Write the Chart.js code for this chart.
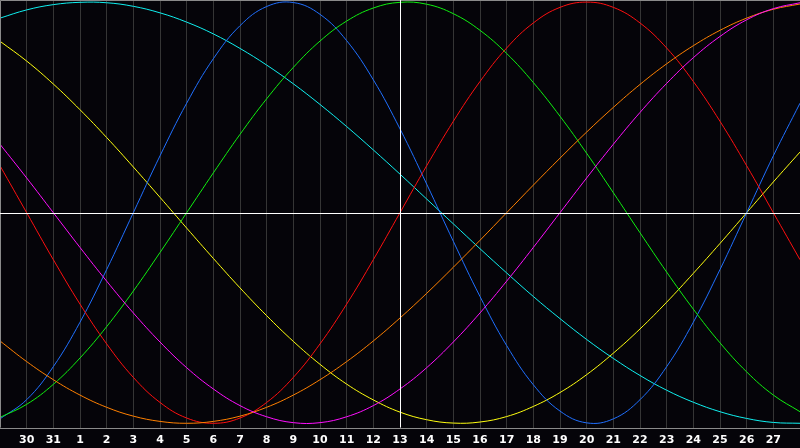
<!DOCTYPE html>
<html><head><meta charset="utf-8">
<script src="https://cdn.jsdelivr.net/npm/chart.js@4"></script>
<style>html,body{margin:0;padding:0;background:#050409;overflow:hidden}canvas{display:block}</style>
</head><body><canvas id="c" width="800" height="448"></canvas>
<script>
// Day labels (index 0 = 29th of previous month ... index 30 = 28th)
const dayLabels = ['29','30','31','1','2','3','4','5','6','7','8','9','10','11','12','13','14','15','16','17','18','19','20','21','22','23','24','25','26','27','28'];
const todayIndex = 15; // "13"

// Curve values (-1 .. 1)
const cyanSeries    = [0.924,0.963,0.988,0.999,0.997,0.980,0.949,0.905,0.849,0.780,0.701,0.612,0.514,0.409,0.298,0.183,0.065,-0.053,-0.171,-0.286,-0.398,-0.503,-0.602,-0.692,-0.773,-0.843,-0.900,-0.945,-0.977,-0.996,-1.000];
const yellowSeries  = [0.814,0.720,0.611,0.489,0.357,0.217,0.073,-0.073,-0.217,-0.357,-0.489,-0.611,-0.720,-0.814,-0.889,-0.947,-0.983,-0.999,-0.994,-0.968,-0.920,-0.854,-0.769,-0.667,-0.552,-0.425,-0.288,-0.146,0.000,0.146,0.288];
const blueSeries    = [-0.979,-0.888,-0.731,-0.520,-0.270,0.000,0.270,0.520,0.731,0.888,0.979,0.998,0.942,0.817,0.631,0.398,0.136,-0.136,-0.398,-0.631,-0.817,-0.942,-0.998,-0.979,-0.888,-0.731,-0.520,-0.270,0.000,0.270,0.520];
const greenSeries   = [-0.972,-0.910,-0.815,-0.690,-0.541,-0.372,-0.189,0.000,0.189,0.372,0.541,0.690,0.815,0.910,0.972,0.999,0.990,0.945,0.866,0.756,0.618,0.458,0.282,0.095,-0.095,-0.282,-0.458,-0.618,-0.756,-0.866,-0.945];
const redSeries     = [0.223,0.000,-0.223,-0.434,-0.623,-0.782,-0.901,-0.975,-1.000,-0.975,-0.901,-0.782,-0.623,-0.434,-0.223,0.000,0.223,0.434,0.623,0.782,0.901,0.975,1.000,0.975,0.901,0.782,0.623,0.434,0.223,0.000,-0.223];
const magentaSeries = [0.325,0.165,0.000,-0.165,-0.325,-0.476,-0.614,-0.736,-0.837,-0.916,-0.969,-0.997,-0.997,-0.969,-0.916,-0.837,-0.736,-0.614,-0.476,-0.325,-0.165,0.000,0.165,0.325,0.476,0.614,0.736,0.837,0.916,0.969,0.997];
const orangeSeries  = [-0.609,-0.707,-0.793,-0.866,-0.924,-0.966,-0.991,-1.000,-0.991,-0.966,-0.924,-0.866,-0.793,-0.707,-0.609,-0.500,-0.383,-0.259,-0.131,0.000,0.131,0.259,0.383,0.500,0.609,0.707,0.793,0.866,0.924,0.966,0.991];

function ds(data, color) {
  return { data, borderColor: color, borderWidth: 1, pointRadius: 0, fill: false, tension: 0.4 };
}

const framePlugin = {
  id: 'frame',
  beforeDraw(chart) {
    const c = chart.ctx;
    c.save();
    c.fillStyle = '#050409';
    c.fillRect(0, 0, chart.width, chart.height);
    c.restore();
  },
  afterDatasetsDraw(chart) {
    const c = chart.ctx, a = chart.chartArea;
    const xs = chart.scales.x, ys = chart.scales.y;
    c.save();
    // frame
    c.strokeStyle = '#8a8a8a';
    c.lineWidth = 1;
    c.beginPath();
    c.moveTo(0.5, a.bottom); c.lineTo(0.5, 0.5); c.lineTo(a.right, 0.5);
    c.moveTo(0, Math.round(a.bottom) + 0.5); c.lineTo(a.right, Math.round(a.bottom) + 0.5);
    c.stroke();
    // zero line & today line
    c.strokeStyle = '#ffffff';
    const y0 = Math.round(ys.getPixelForValue(0)) + 0.5;
    c.beginPath(); c.moveTo(a.left, y0); c.lineTo(a.right, y0); c.stroke();
    const xt = Math.round(xs.getPixelForValue(todayIndex)) + 0.5;
    c.beginPath(); c.moveTo(xt, a.top); c.lineTo(xt, a.bottom); c.stroke();
    c.restore();
  }
};

new Chart(document.getElementById('c'), {
  type: 'line',
  data: {
    labels: dayLabels,
    datasets: [
      ds(magentaSeries, '#ff10ff'),
      ds(orangeSeries, '#ff8000'),
      ds(redSeries, '#ff1010'),
      ds(greenSeries, '#10f010'),
      ds(blueSeries, '#2070ff'),
      ds(yellowSeries, '#ffff10'),
      ds(cyanSeries, '#10f0f0')
    ]
  },
  options: {
    responsive: false,
    animation: false,
    devicePixelRatio: 1,
    layout: { padding: 0 },
    plugins: { legend: { display: false }, tooltip: { enabled: false } },
    scales: {
      x: {
        offset: false,
        grid: { color: '#353535', lineWidth: 1, drawTicks: false, offset: false },
        border: { display: false },
        ticks: {
          color: '#ffffff', autoSkip: false, maxRotation: 0, padding: 6,
          font: { family: 'DejaVu Sans', weight: 'bold', size: 11 },
          callback: (v, i) => (i === 0 || i === dayLabels.length - 1) ? '' : dayLabels[i]
        },
        afterFit: s => { s.height = 20.5; s.paddingLeft = 0; s.paddingRight = 0; }
      },
      y: { display: false, min: -1.02, max: 1.01 }
    }
  },
  plugins: [framePlugin]
});
</script>
</body></html>
